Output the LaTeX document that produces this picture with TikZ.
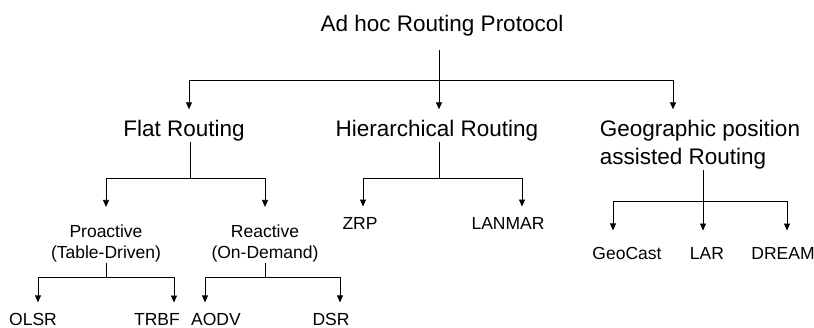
\documentclass[tikz,border=0pt]{standalone}
\usepackage{fontspec}
\setmainfont{Liberation Sans}
\usetikzlibrary{arrows.meta}
\tikzset{
  big/.style={font=\fontsize{22.5}{28}\selectfont, inner sep=0pt, anchor=base},
  small/.style={font=\fontsize{17.5}{21}\selectfont, inner sep=0pt, anchor=base, align=center},
  arr/.style={-{Triangle[length=7pt,width=6pt]}, shorten >=11pt},
}
\begin{document}
\begin{tikzpicture}[x=1pt,y=-1pt,line width=0.8pt]
  \useasboundingbox (0,0) rectangle (814,328);
  % top two levels
  \node[big] (adhoc) at (442,32) {Ad hoc Routing Protocol};
  \node[big] (flat) at (184,137) {Flat Routing};
  \node[big] (hier) at (437,137) {Hierarchical Routing};
  \node[big,align=left] (geo) at (700,165) {Geographic position\\assisted Routing};
  % third level
  \node[small] (pro) at (106,259) {Proactive\\(Table-Driven)};
  \node[small] (re) at (265,259) {Reactive\\(On-Demand)};
  \node[small] (zrp) at (360,230) {ZRP};
  \node[small] (lanmar) at (508,230) {LANMAR};
  \foreach \n/\x/\t in {geocast/627/GeoCast, lar/707/LAR, dream/783/DREAM}
    \node[small] (\n) at (\x,260) {\t};
  % leaves
  \foreach \n/\x/\t in {olsr/33/OLSR, trbf/157/TRBF, aodv/216/AODV, dsr/331/DSR}
    \node[small] (\n) at (\x,326) {\t};
  % branch points
  \coordinate (j0) at (439,80);
  \coordinate (j1) at (190,178);
  \coordinate (j2) at (439,178);
  \coordinate (j3) at (703,201);
  \coordinate (j4) at (106,277);
  \coordinate (j5) at (265,277);
  % connectors
  \draw[shorten <=13pt] (adhoc.south -| j0) -- (j0);
  \draw[arr] (j0) -| ([xshift=5pt]flat.north);
  \draw[arr] (j0) -- (j0 |- hier.north);
  \draw[arr] (j0) -| ([xshift=-27pt]geo.north);
  \draw (flat.south -| j1) -- (j1);
  \draw[arr,shorten >=18pt] (j1) -| (pro.north);
  \draw[arr,shorten >=18pt] (j1) -| (re.north);
  \draw (hier.south -| j2) -- (j2);
  \draw[arr] (j2) -| ([xshift=3pt]zrp.north);
  \draw[arr] (j2) -| ([xshift=14pt]lanmar.north);
  \draw (geo.south -| j3) -- (j3);
  \draw[arr,shorten >=17pt] (j3) -- (j3 |- lar.north);
  \foreach \n/\dx in {geocast/-14, dream/4}
    \draw[arr,shorten >=17pt] (j3) -| ([xshift=\dx pt]\n.north);
  \draw (pro.south) -- (j4);
  \draw (re.south) -- (j5);
  \foreach \n/\dx in {olsr/5, trbf/17}
    \draw[arr] (j4) -| ([xshift=\dx pt]\n.north);
  \foreach \n/\dx in {aodv/-11, dsr/9}
    \draw[arr] (j5) -| ([xshift=\dx pt]\n.north);
\end{tikzpicture}
\end{document}
